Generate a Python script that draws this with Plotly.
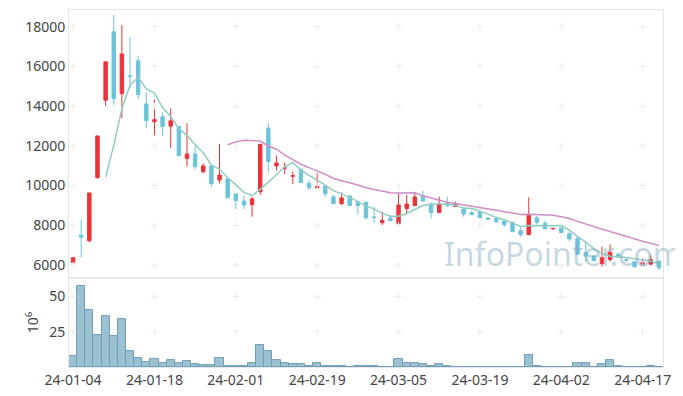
import pandas as pd
import plotly.graph_objects as go

# ---------------- data ----------------
holidays = ["2024-02-09", "2024-02-12", "2024-03-01", "2024-04-10"]
dates = [d for d in pd.bdate_range("2024-01-04", "2024-04-19") if d.strftime("%Y-%m-%d") not in holidays]
date_labels = [d.strftime("%y-%m-%d") for d in dates]

open_ = [6120, 7500, 7220, 10400, 14300, 17740, 14630, 15520, 16280, 14110,
         13220, 13460, 12990, 12970, 11360, 11590, 10700, 10990, 10280, 10330,
         9580, 9220, 9040, 9690, 12890, 10990, 10870, 10470, 10820, 10110,
         9890, 9980, 9430, 9090, 9480, 9180, 9170, 8420, 8130, 8370,
         8100, 8840, 8990, 9480, 9040, 8640, 9090, 8940, 8820, 8640,
         8670, 8370, 8330, 8220, 8150, 7730, 7530, 8370, 8100, 7820,
         7880, 7600, 7350, 6620, 6450, 6070, 6270, 6540, 6270, 6170,
         5970, 6040, 6200]
high = [6370, 8270, 9630, 12500, 16230, 18600, 18090, 17470, 16530, 14700,
        14350, 13690, 13890, 12970, 13140, 12050, 11120, 10990, 12100, 10330,
        9580, 9480, 9440, 12080, 13140, 11510, 11150, 10700, 10820, 10250,
        10620, 9980, 9530, 9660, 9480, 9180, 9170, 8940, 8690, 8500,
        9640, 9530, 9690, 9740, 9160, 9440, 9440, 9190, 8820, 8740,
        8770, 8370, 8430, 8220, 8150, 7900, 9410, 8470, 8230, 7880,
        7880, 7600, 7350, 7210, 6450, 6920, 7040, 6620, 6320, 6170,
        6340, 6500, 6200]
low = [6120, 6390, 7140, 10350, 14000, 14050, 13390, 14900, 14350, 12890,
       12530, 12480, 11880, 11510, 10970, 10790, 10620, 9950, 10110, 9390,
       8810, 8810, 8430, 9530, 10670, 10740, 10570, 10070, 10150, 9790,
       9830, 9430, 9090, 9020, 8990, 8550, 8300, 8130, 8020, 8230,
       7980, 8610, 8990, 9220, 8350, 8640, 8910, 8940, 8430, 8530,
       8380, 8300, 8170, 7930, 7680, 7430, 7530, 8030, 7830, 7780,
       7630, 7210, 6540, 6170, 6220, 5910, 6170, 6400, 6150, 5910,
       5970, 6040, 5750]
close = [6370, 7400, 9630, 12500, 16230, 14380, 16630, 15500, 14580, 13270,
         13320, 12970, 13260, 11510, 11590, 10960, 10990, 10100, 10530, 9390,
         9240, 9020, 9330, 12080, 11210, 11140, 10900, 10500, 10150, 9890,
         10000, 9590, 9090, 9380, 8990, 8990, 8380, 8400, 8250, 8230,
         9020, 9070, 9430, 9220, 8640, 9070, 9010, 9040, 8570, 8530,
         8380, 8300, 8170, 8030, 7680, 7530, 8530, 8150, 7830, 7840,
         7630, 7310, 6540, 6450, 6220, 6370, 6640, 6400, 6250, 5910,
         6120, 6270, 5860]
volume_m = [7.4, 57.5, 40.6, 22.4, 36.2, 21.7, 34.1, 11.2, 6.2, 3.4,
            5.5, 2.7, 4.8, 2.7, 4.1, 2.0, 1.3, 1.0, 6.0, 0.7,
            0.6, 0.7, 2.5, 15.2, 11.6, 4.8, 2.5, 1.8, 1.8, 0.8,
            2.5, 0.8, 0.8, 0.9, 0.2, 0.8, 0.8, 0.8, 0.2, 0.2,
            5.5, 2.5, 2.5, 1.8, 0.7, 1.8, 0.7, 0.2, 0.2, 0.2,
            0.2, 0.2, 0.2, 0.2, 0.2, 0.2, 8.1, 0.7, 0.2, 0.2,
            0.2, 0.2, 2.5, 2.5, 0.2, 1.8, 4.8, 0.7, 0.2, 0.2,
            0.2, 0.7, 0.2]

price_ticks = [6000, 8000, 10000, 12000, 14000, 16000, 18000]
volume_ticks = [25, 50]
tick_step = 10

# ---------------- derived ----------------
ma5 = pd.Series(close).rolling(5).mean()
ma20 = pd.Series(close).rolling(20).mean()
tick_idx = list(range(0, len(date_labels), tick_step))
tick_cats = [date_labels[i] for i in tick_idx]

RED = "#ea3339"
BLUE = "#6cc3da"
FONT = "Noto Sans"

fig = go.Figure()

# grid "+" marks
gx, gy = [], []
for c in tick_cats:
    for v in price_ticks:
        gx.append(c); gy.append(v)
fig.add_trace(go.Scatter(x=gx, y=gy, mode="markers", xaxis="x", yaxis="y",
                         marker=dict(symbol="cross-thin", size=5, line=dict(color="#ebebeb", width=1)),
                         hoverinfo="skip", showlegend=False))
vx, vy = [], []
for c in tick_cats:
    for v in volume_ticks:
        vx.append(c); vy.append(v)
fig.add_trace(go.Scatter(x=vx, y=vy, mode="markers", xaxis="x2", yaxis="y2",
                         marker=dict(symbol="cross-thin", size=5, line=dict(color="#ebebeb", width=1)),
                         hoverinfo="skip", showlegend=False))

fig.add_trace(go.Candlestick(
    x=date_labels, open=open_, high=high, low=low, close=close,
    increasing=dict(line=dict(color=RED, width=1), fillcolor=RED),
    decreasing=dict(line=dict(color=BLUE, width=1), fillcolor=BLUE),
    xaxis="x", yaxis="y", showlegend=False))

fig.add_trace(go.Scatter(x=date_labels, y=ma5, mode="lines", line=dict(color="#8fcdc2", width=1.5),
                         xaxis="x", yaxis="y", showlegend=False))
fig.add_trace(go.Scatter(x=date_labels, y=ma20, mode="lines", line=dict(color="#cf8fc8", width=1.5),
                         xaxis="x", yaxis="y", showlegend=False))

fig.add_trace(go.Bar(x=date_labels, y=volume_m, xaxis="x2", yaxis="y2",
                     marker=dict(color="#9cc1d2", line=dict(color="#6a9db5", width=1)),
                     showlegend=False))

axis_common = dict(showgrid=False, zeroline=False, showline=True, linecolor="#e6e6e6",
                   mirror=True, ticks="", automargin=False,
                   tickfont=dict(family=FONT, size=14, color="#444"))

# page body has an 8px default margin -> compensate in figure margins
fig.update_layout(
    width=683, height=396,
    margin=dict(l=61, r=28, t=2, b=37),
    paper_bgcolor="white", plot_bgcolor="white",
    boxgap=0.4, bargap=0,
    showlegend=False,
    font=dict(family=FONT, color="#444"),
    xaxis=dict(type="category", categoryorder="array", categoryarray=date_labels,
               range=[-0.5, len(date_labels) - 0.5], anchor="y", matches="x2",
               showticklabels=False, rangeslider=dict(visible=False), **axis_common),
    xaxis2=dict(type="category", categoryorder="array", categoryarray=date_labels,
                range=[-0.5, len(date_labels) - 0.5], anchor="y2",
                tickvals=tick_cats, ticktext=tick_cats, **axis_common),
    yaxis=dict(domain=[0.25, 1], range=[5360, 18840], tickvals=price_ticks,
               tickformat="d", **axis_common),
    yaxis2=dict(domain=[0, 0.249], range=[0, 63], tickvals=volume_ticks,
                tickformat="d", **axis_common),
    annotations=[
        dict(text="10<sup>6</sup>", xref="paper", yref="paper", x=-0.062, y=0.126,
             xanchor="center", yanchor="middle",
             textangle=-90, showarrow=False, font=dict(family=FONT, size=14, color="#444")),
        dict(text="InfoPointer.com", xref="paper", yref="paper", x=0.628, y=0.318,
             xanchor="left", yanchor="middle", showarrow=False,
             font=dict(family=FONT, size=32, color="rgba(125,165,190,0.45)")),
    ],
)

fig.write_html("out.html")
